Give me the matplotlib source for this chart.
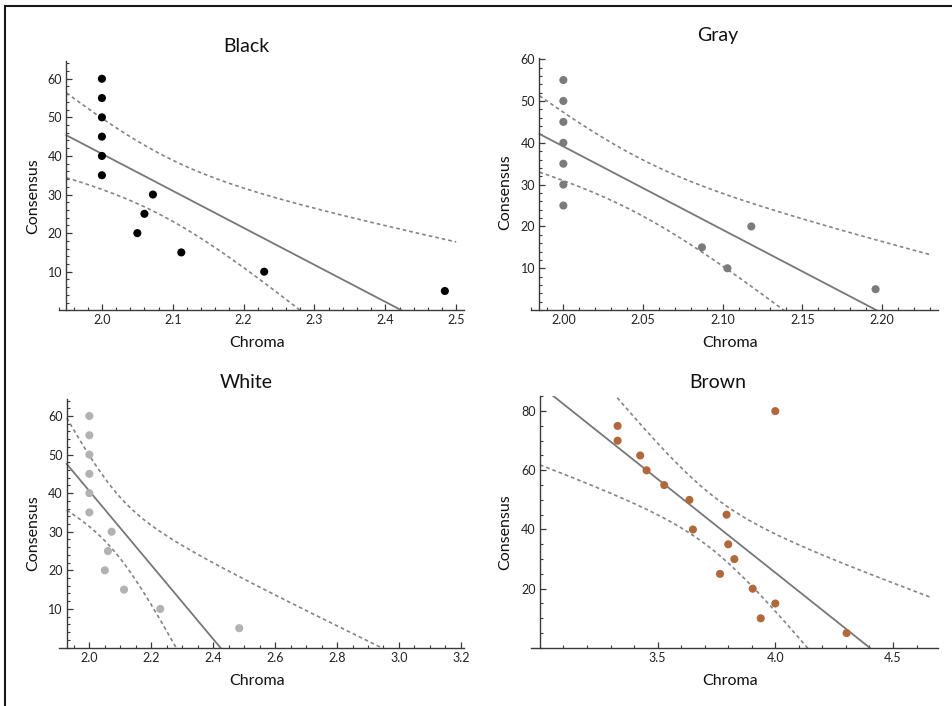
import numpy as np
import matplotlib
matplotlib.use('Agg')
import matplotlib.pyplot as plt
from matplotlib.ticker import MultipleLocator, FixedLocator
from matplotlib.lines import Line2D

plt.rcParams['font.family'] = ['Lato', 'DejaVu Sans']

# data
black_chroma = [2.0, 2.0, 2.0, 2.0, 2.0, 2.0, 2.05, 2.06, 2.072, 2.112, 2.229, 2.484]
black_consensus = [60, 55, 50, 45, 40, 35, 20, 25, 30, 15, 10, 5]

gray_chroma = [2.0, 2.0, 2.0, 2.0, 2.0, 2.0, 2.0, 2.087, 2.103, 2.118, 2.196]
gray_consensus = [55, 50, 45, 40, 35, 30, 25, 15, 10, 20, 5]

white_chroma = [2.0, 2.0, 2.0, 2.0, 2.0, 2.0, 2.05, 2.06, 2.072, 2.112, 2.229, 2.484]
white_consensus = [60, 55, 50, 45, 40, 35, 20, 25, 30, 15, 10, 5]

brown_chroma = [3.33, 3.33, 3.426, 3.453, 3.528, 3.635, 3.65, 3.793, 3.8, 3.826,
                3.765, 3.904, 3.938, 4.0, 4.0, 4.303]
brown_consensus = [75, 70, 65, 60, 55, 50, 40, 45, 35, 30, 25, 20, 10, 15, 80, 5]

# 95% two sided t values by degrees of freedom
T95 = {9: 2.2622, 10: 2.2281, 14: 2.1448}

W, H = 952, 706


def px_rect(left, right, bottom, top):
    return [left / W, 1 - bottom / H, (right - left) / W, (bottom - top) / H]


def fit_bands(x, y, grid):
    x = np.asarray(x, float)
    y = np.asarray(y, float)
    n = len(x)
    slope, icpt = np.polyfit(x, y, 1)
    s = np.sqrt(np.sum((y - (icpt + slope * x)) ** 2) / (n - 2))
    sxx = np.sum((x - x.mean()) ** 2)
    fit = icpt + slope * grid
    se = s * np.sqrt(1.0 / n + (grid - x.mean()) ** 2 / sxx)
    t = T95[n - 2]
    return fit, fit - t * se, fit + t * se


panels = [
    dict(title='Black', x=black_chroma, y=black_consensus, color='#000000',
         rect=px_rect(58.7, 464, 310.3, 61), xlim=(1.939, 2.511), ylim=(0, 64.6),
         xr=(1.95, 2.5), xmaj=0.1, xmin=0.02, ymaj=10, ymin=2, xfmt='%.1f',
         xticks=[2.0, 2.1, 2.2, 2.3, 2.4, 2.5], yticks=[10, 20, 30, 40, 50, 60],
         tpos=(246, 46), xlpos=(257, 343), ylpos=(33, 196)),
    dict(title='Gray', x=gray_chroma, y=gray_consensus, color='#7b7b7b',
         rect=px_rect(530.7, 937.7, 310.1, 58.3), xlim=(1.9795, 2.235), ylim=(0, 60.2),
         xr=(1.985, 2.231), xmaj=0.05, xmin=0.01, ymaj=10, ymin=2, xfmt='%.2f',
         xticks=[2.0, 2.05, 2.1, 2.15, 2.2], yticks=[10, 20, 30, 40, 50, 60],
         tpos=(718, 35), xlpos=(730, 343), ylpos=(505, 192)),
    dict(title='White', x=white_chroma, y=white_consensus, color='#b2b2b2',
         rect=px_rect(58.7, 464, 647.5, 399), xlim=(1.901, 3.21), ylim=(0, 64.4),
         xr=(1.927, 3.185), xmaj=0.2, xmin=0.05, ymaj=10, ymin=2, xfmt='%.1f',
         xticks=[2.0, 2.2, 2.4, 2.6, 2.8, 3.0, 3.2], yticks=[10, 20, 30, 40, 50, 60],
         tpos=(246, 383), xlpos=(257, 681), ylpos=(33, 533)),
    dict(title='Brown', x=brown_chroma, y=brown_consensus, color='#b0693a',
         rect=px_rect(531, 937.7, 647.9, 396), xlim=(2.962, 4.69), ylim=(0, 85.1),
         xr=(3.0, 4.664), xmaj=0.5, xmin=0.1, ymaj=20, ymin=5, xfmt='%.1f',
         xticks=[3.5, 4.0, 4.5], yticks=[20, 40, 60, 80],
         tpos=(718, 383), xlpos=(730, 681), ylpos=(505, 532)),
]

fig = plt.figure(figsize=(W / 100, H / 100), dpi=100)
axcol = '#3a3a3a'

for p in panels:
    ax = fig.add_axes(p['rect'])
    grid = np.linspace(p['xr'][0], p['xr'][1], 300)
    fit, lo, hi = fit_bands(p['x'], p['y'], grid)
    ax.plot(grid, fit, color='#777777', lw=1.3, zorder=2)
    ax.plot(grid, lo, color='#858585', lw=1.2, dashes=(2.2, 1.8), zorder=2)
    ax.plot(grid, hi, color='#858585', lw=1.2, dashes=(2.2, 1.8), zorder=2)
    ax.scatter(p['x'], p['y'], s=34, color=p['color'], edgecolors='none', zorder=3)

    ax.set_xlim(*p['xlim'])
    ax.set_ylim(*p['ylim'])
    ax.spines['top'].set_visible(False)
    ax.spines['right'].set_visible(False)
    ax.spines['left'].set_position(('data', p['xr'][0]))
    for side in ['left', 'bottom']:
        ax.spines[side].set_color(axcol)
        ax.spines[side].set_linewidth(1.0)
    ax.patch.set_alpha(0)

    ax.xaxis.set_major_locator(FixedLocator(p['xticks']))
    ax.xaxis.set_minor_locator(MultipleLocator(p['xmin']))
    ax.yaxis.set_major_locator(FixedLocator(p['yticks']))
    ax.yaxis.set_minor_locator(MultipleLocator(p['ymin']))
    ax.set_xticklabels([p['xfmt'] % v for v in p['xticks']])
    ax.set_yticklabels(['%d' % v for v in p['yticks']])
    ax.tick_params(which='major', direction='in', length=4, width=0.9, color=axcol,
                   labelsize=9, pad=3, labelcolor='#222222')
    ax.tick_params(which='minor', direction='in', length=2.3, width=0.8, color=axcol)

    fig.text(p['tpos'][0] / W, 1 - p['tpos'][1] / H, p['title'], ha='center', va='center',
             fontsize=14, color='#111111')
    fig.text(p['xlpos'][0] / W, 1 - p['xlpos'][1] / H, 'Chroma', ha='center', va='center',
             fontsize=11.5, color='#111111')
    fig.text(p['ylpos'][0] / W, 1 - p['ylpos'][1] / H, 'Consensus', ha='center', va='center',
             fontsize=11.5, rotation=90, color='#111111')

# frame lines at top and left of the picture
fig.add_artist(Line2D([4.5 / W, 1], [1 - 5.5 / H, 1 - 5.5 / H], color='#1a1a1a', lw=1.5))
fig.add_artist(Line2D([4.5 / W, 4.5 / W], [0, 1 - 5.5 / H], color='#1a1a1a', lw=1.5))

fig.savefig('out.png', dpi=100)
